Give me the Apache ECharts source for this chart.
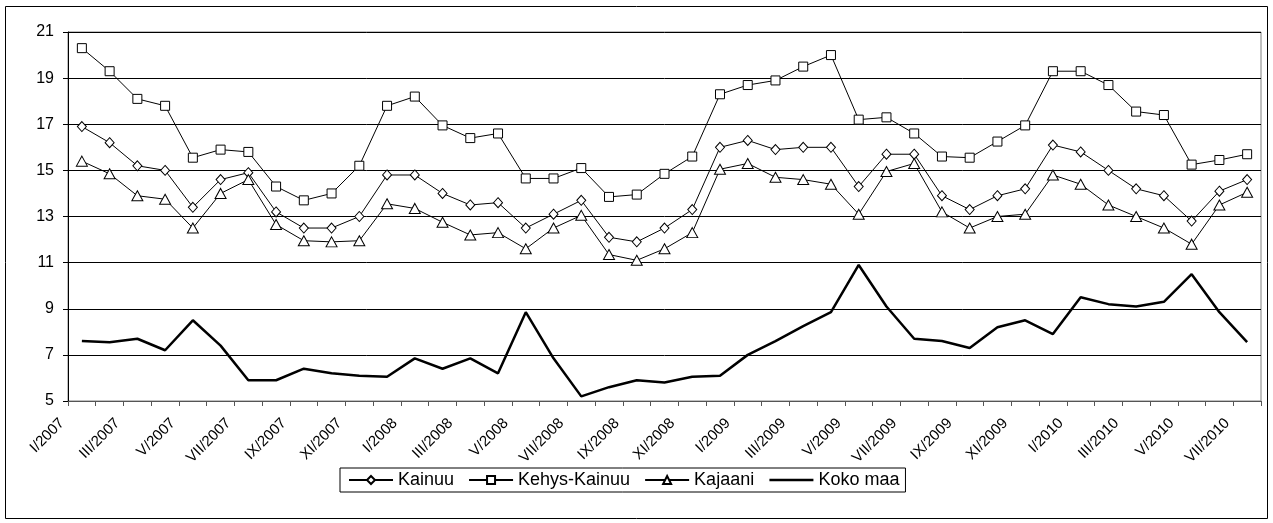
<!DOCTYPE html>
<html>
<head>
<meta charset="utf-8">
<style>
  html, body { margin: 0; padding: 0; background: #fff; }
  #chart { width: 1273px; height: 523px; }
</style>
<script src="https://cdn.jsdelivr.net/npm/echarts@6/dist/echarts.min.js"></script>
</head>
<body>
<div id="chart"></div>
<script>
// Monthly categories I/2007 .. VII/2010 (Roman numeral month / year)
const romans = ['I', 'II', 'III', 'IV', 'V', 'VI', 'VII', 'VIII', 'IX', 'X', 'XI', 'XII'];
const months = [];
for (let y = 2007; y <= 2010; y++) {
  for (let m = 0; m < 12; m++) {
    if (y === 2010 && m > 6) break;
    months.push(romans[m] + '/' + y);
  }
}

// Unemployment rate, %
const kainuu = [
  16.9, 16.2, 15.2, 15.0, 13.4, 14.6, 14.9, 13.2, 12.5, 12.5, 13.0, 14.8,
  14.8, 14.0, 13.5, 13.6, 12.5, 13.1, 13.7, 12.1, 11.9, 12.5, 13.3, 16.0,
  16.3, 15.9, 16.0, 16.0, 14.3, 15.7, 15.7, 13.9, 13.3, 13.9, 14.2, 16.1,
  15.8, 15.0, 14.2, 13.9, 12.8, 14.1, 14.6
];
const kehysKainuu = [
  20.3, 19.3, 18.1, 17.8, 15.55, 15.9, 15.8, 14.3, 13.7, 14.0, 15.2, 17.8,
  18.2, 16.95, 16.4, 16.6, 14.65, 14.65, 15.1, 13.85, 13.95, 14.85, 15.6, 18.3,
  18.7, 18.9, 19.5, 20.0, 17.2, 17.3, 16.6, 15.6, 15.55, 16.25, 16.95, 19.3,
  19.3, 18.7, 17.55, 17.4, 15.25, 15.45, 15.7
];
const kajaani = [
  15.4, 14.85, 13.9, 13.75, 12.5, 14.0, 14.6, 12.65, 11.95, 11.9, 11.95, 13.55,
  13.35, 12.75, 12.2, 12.3, 11.6, 12.5, 13.05, 11.35, 11.1, 11.6, 12.3, 15.05,
  15.3, 14.7, 14.6, 14.4, 13.1, 14.95, 15.3, 13.2, 12.5, 13.0, 13.1, 14.8,
  14.4, 13.5, 13.0, 12.5, 11.8, 13.5, 14.05
];
const kokoMaa = [
  7.6, 7.55, 7.7, 7.2, 8.5, 7.4, 5.9, 5.9, 6.4, 6.2, 6.1, 6.05,
  6.85, 6.4, 6.85, 6.2, 8.85, 6.85, 5.2, 5.6, 5.9, 5.8, 6.05, 6.1,
  7.0, 7.6, 8.25, 8.85, 10.9, 9.1, 7.7, 7.6, 7.3, 8.2, 8.5, 7.9,
  9.5, 9.2, 9.1, 9.3, 10.5, 8.85, 7.55
];

const yTicks = { min: 5, max: 21, step: 2 };

const font = 'Liberation Sans, Arial, sans-serif';
const chart = echarts.init(document.getElementById('chart'), null, { renderer: 'canvas' });

function markerSeries(name, data, symbol, size) {
  return {
    name, type: 'line', data,
    symbol, symbolSize: size, showSymbol: true,
    lineStyle: { color: '#000', width: 1 },
    itemStyle: { color: '#fff', borderColor: '#000', borderWidth: 1 },
    emphasis: { disabled: true },
    z: 3
  };
}

chart.setOption({
  animation: false,
  backgroundColor: '#fff',
  textStyle: { fontFamily: font },
  graphic: [{
    type: 'rect', silent: true, z: -1,
    shape: { x: 5.5, y: 6.5, width: 1262, height: 512 },
    style: { fill: 'none', stroke: '#000', lineWidth: 1 }
  }],
  grid: {
    left: 68, right: 12, top: 32, bottom: 122,
    show: true, borderColor: '#808080', borderWidth: 1
  },
  legend: {
    left: 340, top: 468,
    itemWidth: 44, itemHeight: 10, itemGap: 14,
    padding: [3, 6, 3, 8],
    borderColor: '#000', borderWidth: 1,
    textStyle: { fontFamily: font, fontSize: 18, color: '#000' },
    data: [
      'Kainuu', 'Kehys-Kainuu', 'Kajaani',
      { name: 'Koko maa', itemStyle: { opacity: 0 }, lineStyle: { width: 2.5, color: '#000' } }
    ]
  },
  xAxis: {
    type: 'category',
    data: months,
    boundaryGap: true,
    axisLine: { lineStyle: { color: '#555', width: 1 } },
    axisTick: { show: true, interval: 0, length: 5, inside: false, lineStyle: { color: '#555' } },
    axisLabel: {
      interval: 1, rotate: 45, margin: 0,
      fontFamily: font, fontSize: 15, color: '#000',
      padding: [0, 28, 0, 0]
    },
    splitLine: { show: false }
  },
  yAxis: {
    type: 'value',
    min: yTicks.min, max: yTicks.max, interval: yTicks.step,
    axisLine: { show: true, lineStyle: { color: '#000' } },
    axisTick: { show: true, length: 5, lineStyle: { color: '#000' } },
    axisLabel: { fontFamily: font, fontSize: 16, color: '#000', margin: 14 },
    splitLine: { show: true, lineStyle: { color: '#000', width: 1 } }
  },
  series: [
    markerSeries('Kainuu', kainuu, 'diamond', [9, 10]),
    markerSeries('Kehys-Kainuu', kehysKainuu, 'rect', 9),
    markerSeries('Kajaani', kajaani, 'triangle', [11, 10]),
    {
      name: 'Koko maa', type: 'line', data: kokoMaa,
      symbol: 'circle', showSymbol: false,
      lineStyle: { color: '#000', width: 2.5 },
      itemStyle: { color: '#000' },
      emphasis: { disabled: true },
      z: 2
    }
  ]
});
</script>
</body>
</html>
